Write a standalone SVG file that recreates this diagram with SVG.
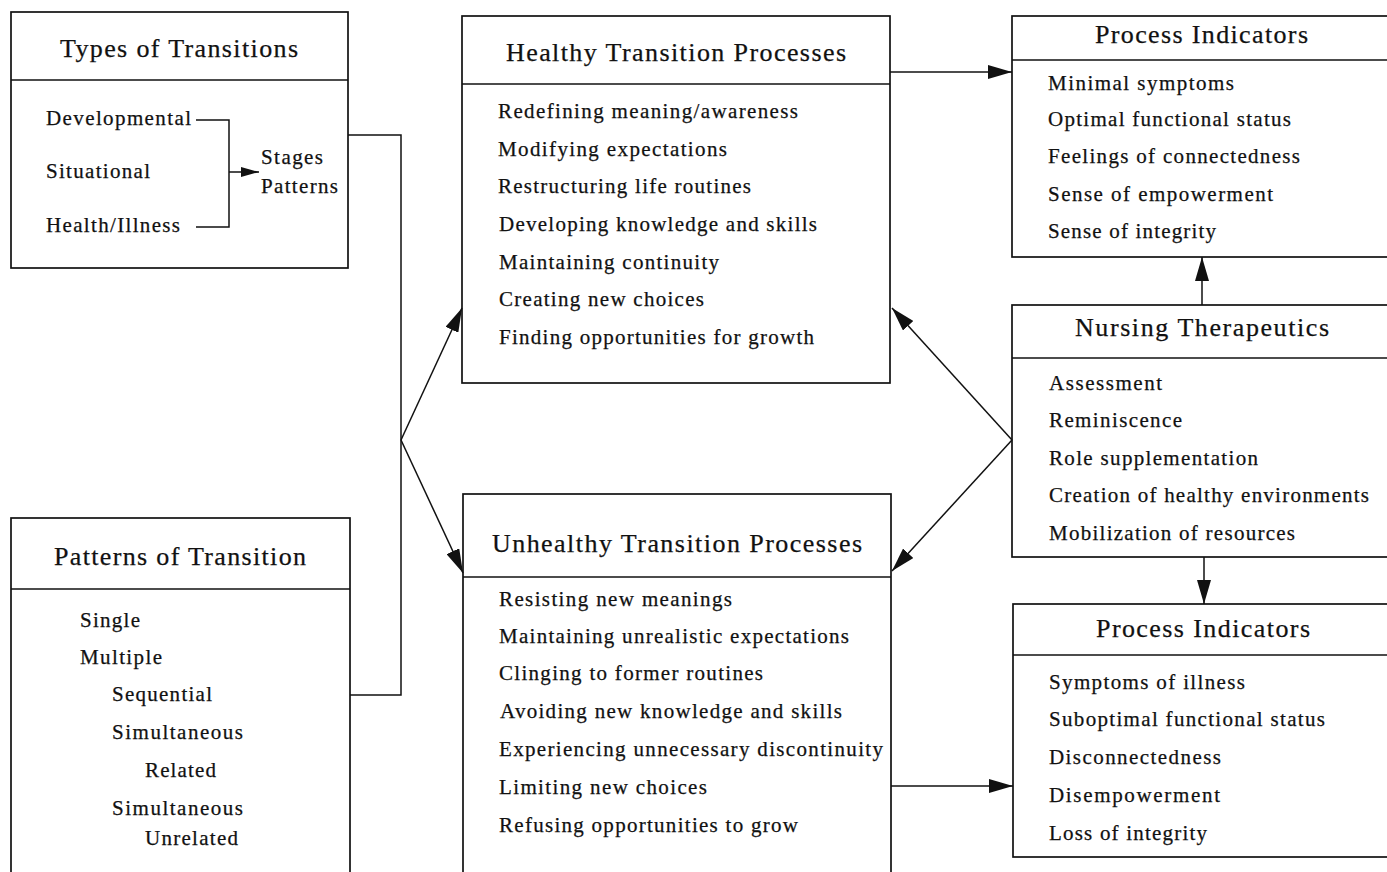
<svg xmlns="http://www.w3.org/2000/svg" width="1387" height="872" viewBox="0 0 1387 872">
<style>
.box{fill:#fff;stroke:#111;stroke-width:1.7}
.div{stroke:#111;stroke-width:1.7}
.t{font-family:"Liberation Serif","Times New Roman",serif;fill:#111;font-size:21px;stroke:#111;stroke-width:0.25}
.h{font-family:"Liberation Serif","Times New Roman",serif;fill:#111;font-size:26px;stroke:#111;stroke-width:0.25}
.con{fill:none;stroke:#111;stroke-width:1.5}
</style>
<defs>
<marker id="ah" viewBox="0 0 24 14" refX="24" refY="7" markerWidth="24" markerHeight="14" markerUnits="userSpaceOnUse" orient="auto">
<path d="M0,0 L24,7 L0,14 Z" fill="#111"/>
</marker>
<marker id="ahs" viewBox="0 0 18 10" refX="18" refY="5" markerWidth="18" markerHeight="10" markerUnits="userSpaceOnUse" orient="auto">
<path d="M0,0 L18,5 L0,10 Z" fill="#111"/>
</marker>
</defs>
<rect width="1387" height="872" fill="#fff"/>

<g id="types">
<rect class="box" x="11" y="12" width="337" height="256"/>
<line class="div" x1="11" y1="80" x2="348" y2="80"/>
<text class="h" x="60" y="57" font-size="28" textLength="238">Types of Transitions</text>
<text class="t" x="46" y="125" textLength="145">Developmental</text>
<text class="t" x="46" y="178" textLength="104">Situational</text>
<text class="t" x="46" y="232" textLength="134">Health/Illness</text>
<text class="t" x="261" y="164" textLength="62">Stages</text>
<text class="t" x="261" y="193" textLength="77">Patterns</text>
<path class="con" d="M196,120 H229 V227 H196"/>
<line class="con" x1="229" y1="172" x2="259" y2="172" marker-end="url(#ahs)"/>
</g>

<g id="patterns">
<rect class="box" x="11" y="518" width="339" height="400"/>
<line class="div" x1="11" y1="589" x2="350" y2="589"/>
<text class="h" x="54" y="565" font-size="28" textLength="252">Patterns of Transition</text>
<text class="t" x="80" y="627" textLength="60">Single</text>
<text class="t" x="80" y="664" textLength="82">Multiple</text>
<text class="t" x="112" y="701" textLength="100">Sequential</text>
<text class="t" x="112" y="739" textLength="131">Simultaneous</text>
<text class="t" x="145" y="777" textLength="71">Related</text>
<text class="t" x="112" y="815" textLength="131">Simultaneous</text>
<text class="t" x="145" y="845" textLength="93">Unrelated</text>
</g>

<g id="healthy">
<rect class="box" x="462" y="16" width="428" height="367"/>
<line class="div" x1="462" y1="84" x2="890" y2="84"/>
<text class="h" x="506" y="61" textLength="340">Healthy Transition Processes</text>
<text class="t" x="498" y="118" textLength="300">Redefining meaning/awareness</text>
<text class="t" x="498" y="156" textLength="229">Modifying expectations</text>
<text class="t" x="498" y="193" textLength="253">Restructuring life routines</text>
<text class="t" x="499" y="231" textLength="318">Developing knowledge and skills</text>
<text class="t" x="499" y="269" textLength="220">Maintaining continuity</text>
<text class="t" x="499" y="306" textLength="205">Creating new choices</text>
<text class="t" x="499" y="344" textLength="315">Finding opportunities for growth</text>
</g>

<g id="unhealthy">
<rect class="box" x="463" y="494" width="428" height="420"/>
<line class="div" x1="463" y1="577" x2="891" y2="577"/>
<text class="h" x="492" y="552" textLength="370">Unhealthy Transition Processes</text>
<text class="t" x="499" y="606" textLength="233">Resisting new meanings</text>
<text class="t" x="499" y="643" textLength="350">Maintaining unrealistic expectations</text>
<text class="t" x="499" y="680" textLength="264">Clinging to former routines</text>
<text class="t" x="500" y="718" textLength="342">Avoiding new knowledge and skills</text>
<text class="t" x="499" y="756" textLength="384">Experiencing unnecessary discontinuity</text>
<text class="t" x="499" y="794" textLength="208">Limiting new choices</text>
<text class="t" x="499" y="832" textLength="299">Refusing opportunities to grow</text>
</g>

<g id="indicators-healthy">
<rect class="box" x="1012" y="16" width="400" height="241"/>
<line class="div" x1="1012" y1="60" x2="1387" y2="60"/>
<text class="h" x="1095" y="43" font-size="25" textLength="213">Process Indicators</text>
<text class="t" x="1048" y="90" textLength="186">Minimal symptoms</text>
<text class="t" x="1048" y="126" textLength="243">Optimal functional status</text>
<text class="t" x="1048" y="163" textLength="252">Feelings of connectedness</text>
<text class="t" x="1048" y="201" textLength="225">Sense of empowerment</text>
<text class="t" x="1048" y="238" textLength="168">Sense of integrity</text>
</g>

<g id="nursing">
<rect class="box" x="1012" y="305" width="400" height="252"/>
<line class="div" x1="1012" y1="358" x2="1387" y2="358"/>
<text class="h" x="1075" y="336" textLength="254">Nursing Therapeutics</text>
<text class="t" x="1049" y="390" textLength="113">Assessment</text>
<text class="t" x="1049" y="427" textLength="133">Reminiscence</text>
<text class="t" x="1049" y="465" textLength="209">Role supplementation</text>
<text class="t" x="1049" y="502" textLength="320">Creation of healthy environments</text>
<text class="t" x="1049" y="540" textLength="246">Mobilization of resources</text>
</g>

<g id="indicators-unhealthy">
<rect class="box" x="1013" y="604" width="400" height="253"/>
<line class="div" x1="1013" y1="655" x2="1387" y2="655"/>
<text class="h" x="1096" y="637" font-size="25" textLength="214">Process Indicators</text>
<text class="t" x="1049" y="689" textLength="196">Symptoms of illness</text>
<text class="t" x="1049" y="726" textLength="276">Suboptimal functional status</text>
<text class="t" x="1049" y="764" textLength="172">Disconnectedness</text>
<text class="t" x="1049" y="802" textLength="171">Disempowerment</text>
<text class="t" x="1049" y="840" textLength="158">Loss of integrity</text>
</g>

<g id="connectors">
<path class="con" d="M348,135 H401 V695 H350"/>
<line class="con" x1="401" y1="440" x2="462" y2="308" marker-end="url(#ah)"/>
<line class="con" x1="401" y1="440" x2="463" y2="573" marker-end="url(#ah)"/>
<line class="con" x1="1012" y1="440" x2="892" y2="308" marker-end="url(#ah)"/>
<line class="con" x1="1012" y1="440" x2="892" y2="571" marker-end="url(#ah)"/>
<line class="con" x1="890" y1="72" x2="1012" y2="72" marker-end="url(#ah)"/>
<line class="con" x1="1202" y1="305" x2="1202" y2="257" marker-end="url(#ah)"/>
<line class="con" x1="1204" y1="557" x2="1204" y2="604" marker-end="url(#ah)"/>
<line class="con" x1="891" y1="786" x2="1013" y2="786" marker-end="url(#ah)"/>
</g>
</svg>
